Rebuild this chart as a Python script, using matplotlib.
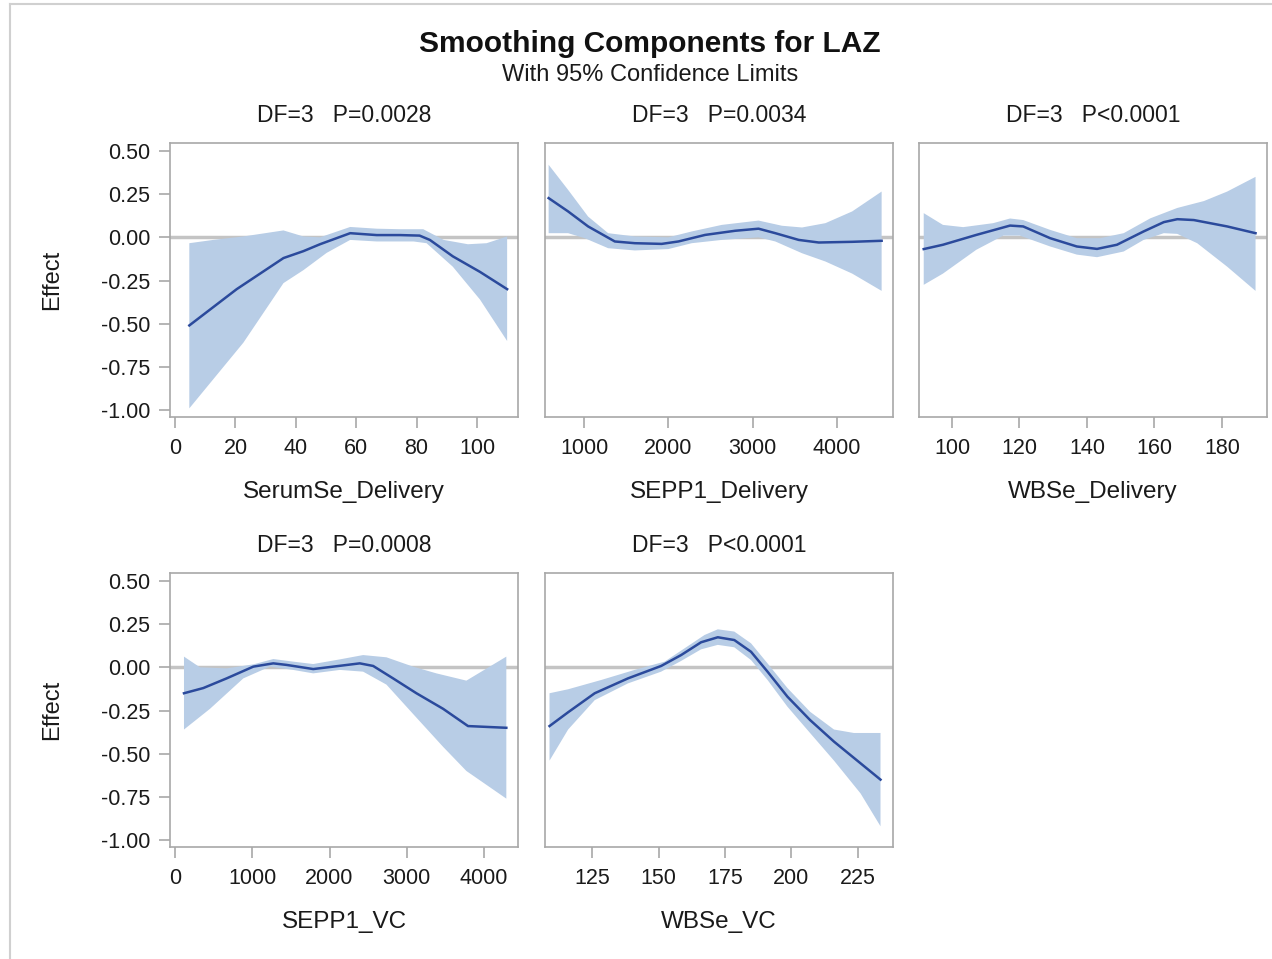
import matplotlib.pyplot as plt
from matplotlib.lines import Line2D

plt.rcParams['font.family'] = ['Liberation Sans', 'DejaVu Sans']

# ---- data ----
# SerumSe_Delivery
x1 = [4.7, 20.4, 35.9, 42.5, 48, 58, 66.8, 74.5, 81, 84.4, 92, 101, 110]
y1 = [-0.51, -0.30, -0.12, -0.08, -0.04, 0.024, 0.013, 0.013, 0.01, -0.015, -0.11, -0.20, -0.30]
x1u = [4.7, 12.6, 22.6, 35.9, 42.5, 48, 58, 66.8, 74.5, 82.2, 89, 97, 103.2, 110]
u1 = [-0.034, -0.015, 0.005, 0.04, 0.005, 0.0, 0.06, 0.05, 0.047, 0.047, -0.015, -0.04, -0.034, 0.005]
x1l = [4.7, 22.6, 35.9, 42.5, 50.2, 58, 66.8, 79, 83.3, 92, 101, 110]
l1 = [-0.99, -0.61, -0.265, -0.19, -0.09, -0.015, -0.024, -0.024, -0.034, -0.17, -0.36, -0.60]

# SEPP1_Delivery
x2 = [579, 810, 1048, 1365, 1603, 1921, 2119, 2437, 2794, 3071, 3270, 3548, 3786, 4183, 4532]
y2 = [0.227, 0.15, 0.063, -0.024, -0.034, -0.038, -0.024, 0.014, 0.038, 0.05, 0.024, -0.015, -0.03, -0.026, -0.02]
x2u = [579, 810, 1048, 1286, 1603, 2000, 2278, 2635, 3071, 3349, 3587, 3865, 4183, 4532]
u2 = [0.42, 0.275, 0.12, 0.024, 0.005, 0.0, 0.034, 0.072, 0.097, 0.067, 0.057, 0.082, 0.15, 0.265]
x2l = [579, 810, 1008, 1286, 1603, 2000, 2278, 2635, 3071, 3270, 3587, 3865, 4183, 4532]
l2 = [0.024, 0.024, -0.005, -0.063, -0.076, -0.068, -0.034, -0.015, 0.0, -0.024, -0.092, -0.14, -0.21, -0.31]

# WBSe_Delivery
x3 = [91.6, 97.3, 107.2, 117.2, 121.1, 129.1, 137, 143, 148.9, 156.8, 162.8, 166.8, 171.7, 181.6, 190]
y3 = [-0.068, -0.043, 0.014, 0.068, 0.063, -0.005, -0.053, -0.067, -0.043, 0.034, 0.088, 0.105, 0.10, 0.063, 0.024]
x3u = [91.6, 97.3, 103.3, 112.2, 117.2, 121.1, 129.1, 137, 143.9, 150.9, 158.8, 166.8, 174.7, 181.6, 190]
u3 = [0.14, 0.072, 0.059, 0.082, 0.109, 0.10, 0.043, -0.005, -0.005, 0.024, 0.11, 0.17, 0.21, 0.265, 0.35]
x3l = [91.6, 97.3, 107.2, 115.2, 120.1, 129.1, 137, 143, 150.9, 156.8, 162.8, 166.8, 172.7, 181.6, 190]
l3 = [-0.275, -0.21, -0.072, 0.01, 0.01, -0.053, -0.10, -0.115, -0.082, -0.015, 0.024, 0.02, -0.034, -0.17, -0.31]

# SEPP1_VC
x4 = [116, 366, 668, 1013, 1272, 1444, 1789, 2047, 2392, 2565, 2823, 3125, 3470, 3793, 4289]
y4 = [-0.15, -0.12, -0.064, 0.004, 0.023, 0.014, -0.01, 0.004, 0.023, 0.008, -0.064, -0.15, -0.24, -0.34, -0.35]
x4u = [116, 323, 668, 1013, 1272, 1530, 1789, 2134, 2435, 2737, 3082, 3384, 3772, 4289]
u4 = [0.062, 0.0, -0.006, 0.017, 0.048, 0.033, 0.019, 0.046, 0.071, 0.058, 0.004, -0.035, -0.077, 0.062]
x4l = [116, 453, 884, 1228, 1530, 1789, 2134, 2435, 2737, 3082, 3470, 3772, 4289]
l4 = [-0.36, -0.24, -0.064, 0.004, -0.015, -0.035, -0.015, -0.025, -0.10, -0.27, -0.46, -0.60, -0.76]

# WBSe_VC
x5 = [109, 116, 126, 138.5, 151, 158.5, 166, 172.3, 178.5, 184.8, 191, 198.5, 207, 216, 233.5]
y5 = [-0.34, -0.26, -0.15, -0.064, 0.008, 0.071, 0.145, 0.174, 0.158, 0.09, -0.025, -0.17, -0.305, -0.43, -0.65]
x5u = [109, 116, 128.5, 141, 152.3, 159.8, 167.3, 172.3, 178.5, 184.8, 191, 198.5, 207, 216, 223.5, 233.5]
u5 = [-0.15, -0.127, -0.073, -0.015, 0.033, 0.11, 0.187, 0.22, 0.207, 0.139, 0.023, -0.12, -0.257, -0.36, -0.38, -0.38]
x5l = [109, 116, 126, 138.5, 151, 158.5, 166, 172.3, 178.5, 184.8, 191, 198.5, 207, 216, 226, 233.5]
l5 = [-0.54, -0.36, -0.19, -0.093, -0.025, 0.037, 0.104, 0.13, 0.116, 0.042, -0.073, -0.228, -0.38, -0.54, -0.73, -0.92]

names = ['SerumSe_Delivery', 'SEPP1_Delivery', 'WBSe_Delivery', 'SEPP1_VC', 'WBSe_VC']
stats = ['DF=3   P=0.0028', 'DF=3   P=0.0034', 'DF=3   P<0.0001', 'DF=3   P=0.0008', 'DF=3   P<0.0001']
xticks = [[0, 20, 40, 60, 80, 100], [1000, 2000, 3000, 4000], [100, 120, 140, 160, 180],
          [0, 1000, 2000, 3000, 4000], [125, 150, 175, 200, 225]]
xlims = [(-1.7, 113.6), (536, 4667), (90.2, 193.4), (-65, 4440), (107.3, 238.2)]
yticks = [0.5, 0.25, 0, -0.25, -0.5, -0.75, -1.0]
ytick_labels = ['0.50', '0.25', '0.00', '-0.25', '-0.50', '-0.75', '-1.00']

curves = [(x1, y1, x1u, u1, x1l, l1), (x2, y2, x2u, u2, x2l, l2), (x3, y3, x3u, u3, x3l, l3),
          (x4, y4, x4u, u4, x4l, l4), (x5, y5, x5u, u5, x5l, l5)]

W, H = 1272, 959
fig = plt.figure(figsize=(W / 100, H / 100), dpi=100)

lefts = [170, 545, 919, 170, 545]
tops = [143, 143, 143, 573, 573]
aw, ah = 348, 274
band_col = '#B8CDE6'
line_col = '#2B4A9C'
frame_col = '#A8A8A8'
txt = '#1A1A1A'

for i in range(5):
    l, t = lefts[i], tops[i]
    ax = fig.add_axes([l / W, 1 - (t + ah) / H, aw / W, ah / H])
    xs, ys, xu, yu, xl, yl = curves[i]
    # band polygon: upper edge then lower edge reversed
    px = list(xu) + list(xl)[::-1]
    py = list(yu) + list(yl)[::-1]
    ax.axhline(0, color='#C4C4C4', lw=2.5, zorder=1)
    ax.fill(px, py, color=band_col, lw=0, zorder=2)
    ax.plot(xs, ys, color=line_col, lw=1.8, zorder=3)
    ax.set_xlim(*xlims[i])
    ax.set_ylim(-1.04, 0.546)
    ax.set_xticks(xticks[i])
    ax.set_yticks(yticks)
    for s in ax.spines.values():
        s.set_color(frame_col)
        s.set_linewidth(1.2)
    ax.tick_params(colors=frame_col, labelcolor=txt, labelsize=15.5, length=8, width=1.2)
    ax.tick_params(axis='x', pad=7)
    ax.tick_params(axis='y', pad=6)
    if i in (0, 3):
        ax.set_yticklabels(ytick_labels)
        ax.set_ylabel('Effect', fontsize=17, color=txt, va='center')
        ax.yaxis.set_label_coords((52 - l) / aw, 0.5)
    else:
        ax.tick_params(axis='y', left=False, labelleft=False)
    ax.set_xlabel(names[i], fontsize=17.5, color=txt, va='center')
    ax.xaxis.set_label_coords(0.5, -75 / ah)
    ax.text(0.5, 1 + 27 / ah, stats[i], transform=ax.transAxes, ha='center', va='center',
            fontsize=16.5, color=txt)

fig.text(650 / W, 1 - 44 / H, 'Smoothing Components for LAZ', ha='center', va='center',
         fontsize=21.5, fontweight='bold', color='#111111')
fig.text(650 / W, 1 - 75 / H, 'With 95% Confidence Limits', ha='center', va='center',
         fontsize=17, color=txt)

# outer frame lines
fig.add_artist(Line2D([10 / W, 10 / W], [0, 1 - 4 / H], color='#D0D0D0', lw=1.5))
fig.add_artist(Line2D([10 / W, 1], [1 - 4 / H, 1 - 4 / H], color='#D0D0D0', lw=1.5))

plt.savefig('out.png', dpi=100)
